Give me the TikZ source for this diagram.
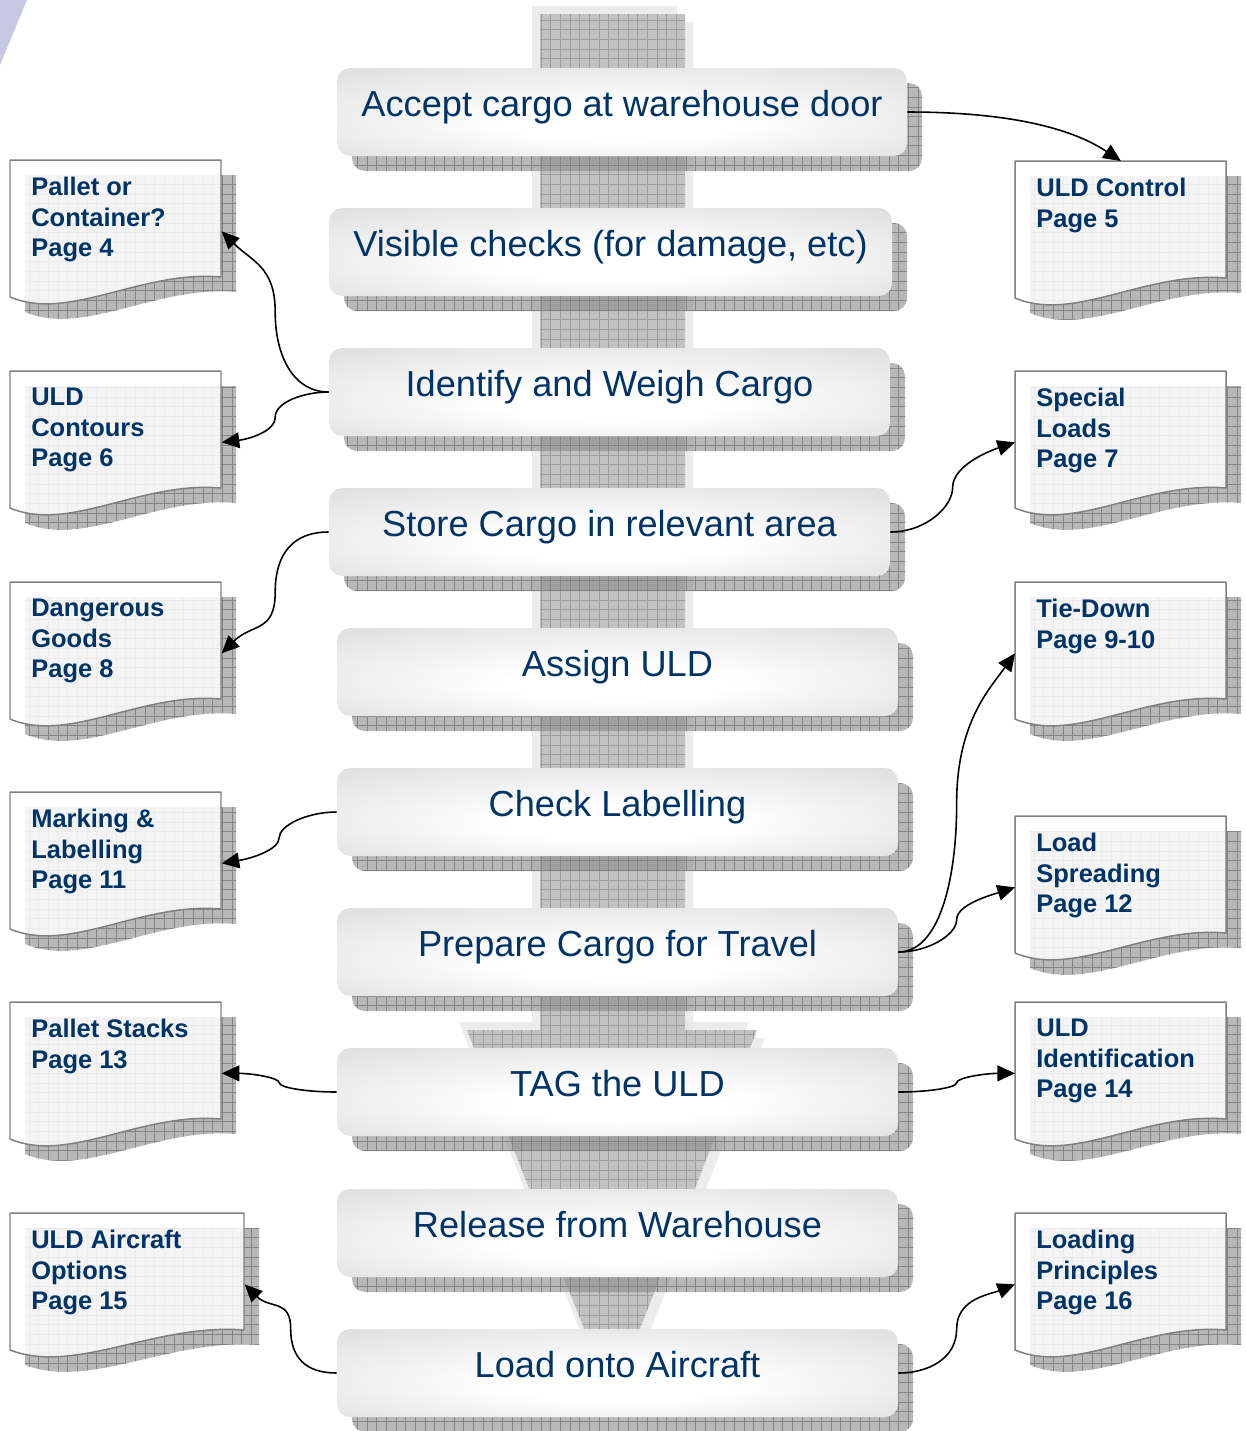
\documentclass[tikz,border=0pt]{standalone}
\usepackage{fontspec}
\setmainfont{Liberation Sans}
\usetikzlibrary{arrows.meta,calc,patterns,patterns.meta}
\definecolor{navy}{RGB}{0,51,102}
\definecolor{lav}{RGB}{200,200,228}
\pgfdeclareradialshading{boxshade}{\pgfpoint{0bp}{-8bp}}{color(0bp)=(white); color(10bp)=(white); color(38bp)=(black!13); color(50bp)=(black!15)}
\tikzdeclarepattern{
  name=mygrid,
  type=uncolored,
  bounding box={(-0.5pt,-0.5pt) and (6pt,6pt)},
  tile size={(5.5pt,5.5pt)},
  code={
    \pgfsetlinewidth{0.45pt}
    \pgfpathmoveto{\pgfqpoint{0pt}{0pt}}
    \pgfpathlineto{\pgfqpoint{5.5pt}{0pt}}
    \pgfpathmoveto{\pgfqpoint{0pt}{0pt}}
    \pgfpathlineto{\pgfqpoint{0pt}{5.5pt}}
    \pgfusepath{stroke}
  }
}
\newcommand{\pxu}{0.02cm}
\tikzset{
  shadowfill/.style={fill=black!46, fill opacity=0.6},
  shadowgrid/.style={pattern=mygrid, pattern color=black!48},
  procnode/.style={shade, shading=boxshade, rounded corners=0.26cm, inner sep=0pt, draw=none},
  proctext/.style={text=navy, font=\fontsize{20.6pt}{24pt}\selectfont, inner sep=0pt},
  docnode/.style={inner sep=0pt, draw=none},
  docshape/.style={draw=black!50, line width=0.85pt, fill=white, fill opacity=0.85, line join=round},
  doctext/.style={text=navy, font=\bfseries\fontsize{14.5pt}{17.3pt}\selectfont, align=left, inner sep=0pt, anchor=north west},
  conn/.style={line width=0.9pt, -{Triangle[length=10pt,width=9pt]}},
  arrowlight/.style={fill=black!10, fill opacity=0.7},
  arrowmain/.style={fill=black!24},
  arrowgrid/.style={pattern=mygrid, pattern color=black!38},
}
% big background arrow, offset #1,#2
\newcommand{\bigarrow}[2]{(540+#1,14+#2) -- (685+#1,14+#2) -- (685+#1,1030+#2) -- (757+#1,1030+#2) -- (612+#1,1400+#2) -- (467+#1,1030+#2) -- (540+#1,1030+#2) -- cycle}
% process step: name, x1, y1, x2, y2, text
\newcommand{\procstep}[6]{%
  \path[shadowfill, rounded corners=0.26cm] (#2+15,#3+15) rectangle (#4+15,#5+15);
  \path[shadowgrid, rounded corners=0.26cm] (#2+15,#3+15) rectangle (#4+15,#5+15);
  \node[procnode, minimum width={(#4-#2)*\pxu}, minimum height={(#5-#3)*\pxu}] (#1) at ({(#2+#4)/2},{(#3+#5)/2}) {};
  \node[proctext, anchor=base] (#1t) at ($(#1.north)+(0,49)$) {#6};
}
% document path: x, y, w
\newcommand{\docpath}[3]{({#1},{#2}) -- ({#1+#3},{#2}) -- ({#1+#3},{#2+117}) .. controls ({#1+0.62*#3},{#2+110}) and ({#1+0.28*#3},{#2+162}) .. ({#1},{#2+137}) -- cycle}
% document: name, x, y, w, text
\newcommand{\docbox}[5]{%
  \node[docnode, anchor=north west, minimum width={#4*\pxu}, minimum height={142*\pxu}] (#1) at (#2,#3) {};
  \path[shadowfill] \docpath{#2+15}{#3+15}{#4};
  \path[shadowgrid] \docpath{#2+15}{#3+15}{#4};
  \path[docshape] \docpath{#2}{#3}{#4};
  \node[doctext] (#1t) at ($(#1.north west)+(21,17)$) {#5};
}
% S-connector: start, end, out dx, mid handle, end handle x, end handle y
\newcommand{\sconn}[6]{%
  \draw[conn] (#1) .. controls +(#3,0) and ($(#1)!0.5!(#2)+(0,{-(#4)})$) .. ($(#1)!0.5!(#2)$) .. controls ($(#1)!0.5!(#2)+(0,#4)$) and ($(#2)+(#5,#6)$) .. (#2);
}

\begin{document}
\begin{tikzpicture}[x=0.02cm, y=-0.02cm]
\useasboundingbox (0,0) rectangle (1245,1431);
\fill[white] (0,0) rectangle (1245,1431);
\fill[lav] (0,0) -- (27,0) -- (0,65) -- cycle;

% background arrow
\path[arrowlight] \bigarrow{-8}{-8};
\path[arrowlight] \bigarrow{8}{8};
\path[arrowmain] \bigarrow{0}{0};
\path[arrowgrid] \bigarrow{0}{0};

% process steps
\procstep{p1}{337}{68}{907}{156}{Accept cargo at warehouse door}
\procstep{p2}{329}{208}{892}{296}{Visible checks (for damage, etc)}
\procstep{p3}{329}{348}{890}{436}{Identify and Weigh Cargo}
\procstep{p4}{329}{488}{890}{576}{Store Cargo in relevant area}
\procstep{p5}{337}{628}{898}{716}{Assign ULD}
\procstep{p6}{337}{768}{898}{856}{Check Labelling}
\procstep{p7}{337}{908}{898}{996}{Prepare Cargo for Travel}
\procstep{p8}{337}{1048}{898}{1136}{TAG the ULD}
\procstep{p9}{337}{1189}{898}{1277}{Release from Warehouse}
\procstep{p10}{337}{1329}{898}{1417}{Load onto Aircraft}

% documents
\docbox{d4}{10}{160}{211}{Pallet or\\Container?\\Page 4}
\docbox{d6}{10}{371}{211}{ULD\\Contours\\Page 6}
\docbox{d8}{10}{582}{211}{Dangerous\\Goods\\Page 8}
\docbox{d11}{10}{792}{211}{Marking \&\\Labelling\\Page 11}
\docbox{d13}{10}{1002}{211}{Pallet Stacks\\Page 13}
\docbox{d15}{10}{1213}{234}{ULD Aircraft\\Options\\Page 15}
\docbox{d5}{1015}{161}{211}{ULD Control\\Page 5}
\docbox{d7}{1015}{371}{211}{Special\\Loads\\Page 7}
\docbox{d9}{1015}{582}{211}{Tie-Down\\Page 9-10}
\docbox{d12}{1015}{816}{211}{Load\\Spreading\\Page 12}
\docbox{d14}{1015}{1002}{211}{ULD\\Identification\\Page 14}
\docbox{d16}{1015}{1213}{211}{Loading\\Principles\\Page 16}

% connectors
\draw[conn] (p1.east) .. controls +(110,0) and ($(d5.north)+(-45,-30)$) .. (d5.north);
\sconn{p3.west}{d4.east}{-35}{-45}{30}{30}
\sconn{p3.west}{d6.east}{-25}{15}{25}{-3}
\sconn{p4.east}{d7.west}{35}{-20}{-30}{10}
\sconn{p4.west}{d8.east}{-35}{40}{30}{-30}
\sconn{p6.west}{d11.east}{-30}{12}{30}{-5}
\sconn{p7.east}{d9.west}{40}{-80}{-25}{35}
\sconn{p7.east}{d12.west}{30}{-15}{-25}{8}
\sconn{p8.west}{d13.east}{-30}{-5}{30}{0}
\sconn{p8.east}{d14.west}{30}{-5}{-30}{0}
\sconn{p10.west}{d15.east}{-30}{-30}{25}{25}
\sconn{p10.east}{d16.west}{30}{-30}{-25}{10}
\end{tikzpicture}
\end{document}
